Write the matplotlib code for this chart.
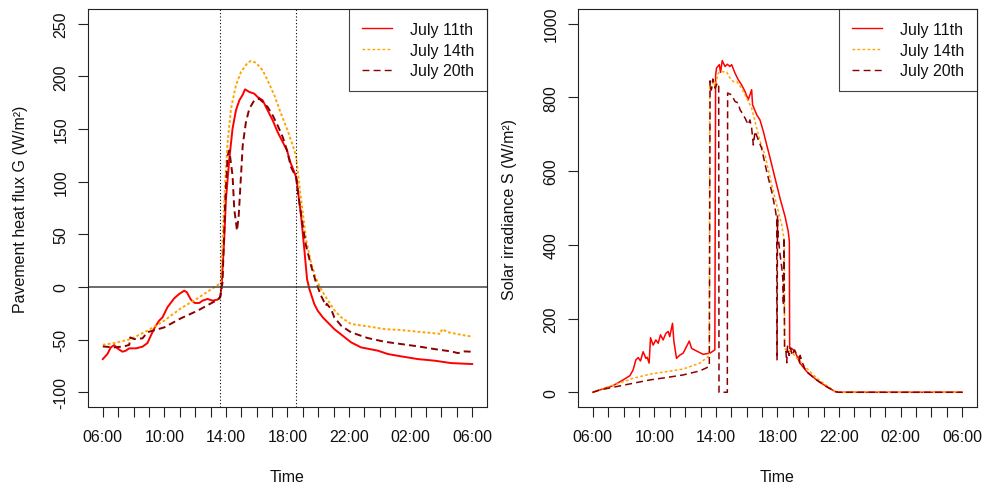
import matplotlib
matplotlib.use('Agg')
import matplotlib.pyplot as plt
from matplotlib.lines import Line2D

plt.rcParams['font.family'] = ['Liberation Sans', 'DejaVu Sans']
plt.rcParams['lines.scale_dashes'] = False

# ---------------- data (hours after 06:00) ----------------
series_names = ['July 11th', 'July 14th', 'July 20th']

g11_h = [0.0, 0.3, 0.52, 0.74, 0.95, 1.28, 1.5, 1.71, 2.15, 2.58, 2.9, 3.12, 3.38, 3.66, 3.88, 4.2, 4.64,
         4.96, 5.29, 5.46, 5.72, 5.98, 6.27, 6.48, 6.81, 7.13, 7.46, 7.63, 7.72, 7.89, 8.0, 8.22, 8.43,
         8.65, 8.87, 9.09, 9.24, 9.52, 9.84, 10.06, 10.39, 10.71, 11.04, 11.36, 11.69, 11.97, 12.18,
         12.44, 12.6, 12.66, 12.88, 13.09, 13.27, 13.42, 13.74, 13.96, 14.3, 15.04, 16.13, 16.78,
         17.87, 18.52, 19.38, 20.47, 21.55, 22.63, 24.0]
g11_v = [-68.5, -63.7, -57.4, -55.2, -58.3, -61.5, -60.5, -58.3, -58.3, -56.7, -53.3, -46.3, -38.4, -32,
         -28.9, -19.3, -10.8, -6.7, -3.5, -5, -12, -15.2, -15.2, -13, -11.4, -13, -12, -9.8, 1.2, 45.7,
         83, 121.7, 150.3, 167.7, 177.2, 182.6, 187.7, 185.2, 183.6, 180.4, 177.2, 167.7, 158.2, 147.1,
         137.6, 129.6, 118.6, 109.1, 102.7, 93.2, 67.8, 36.1, 7.6, -1.9, -16.2, -22.5, -29, -40, -52.6,
         -57.4, -60.5, -63.7, -65.9, -68.5, -70, -72.3, -73.2]

g14_h = [0.0, 0.74, 1.82, 2.9, 3.99, 5.07, 6.16, 7.24, 7.6, 7.67, 7.8, 7.95, 8.11, 8.33, 8.65, 8.98, 9.41,
         9.63, 9.95, 10.39, 10.71, 11.15, 11.58, 12.01, 12.34, 12.55, 12.77, 12.99, 13.2, 13.5, 13.8,
         14.1, 14.5, 15.04, 15.5, 16.13, 17.21, 18.3, 19.38, 20.47, 21.55, 21.94, 22.03, 22.42, 23.35,
         24.0]
g14_v = [-55, -53.3, -49.5, -41.5, -32, -20.3, -10.8, -0.3, 3, 5, 50, 100, 137.6, 169.3, 191.5, 204.2,
         213, 214.7, 213, 205.7, 196.2, 181.9, 164.5, 148.7, 134.4, 124.9, 96.4, 71, 45.7, 25, 10, 0,
         -10, -22, -29, -35.2, -37.4, -40, -40.9, -42.5, -44, -44.6, -40, -43, -45.6, -47.2]

g20_h = [0.0, 0.74, 1.37, 1.72, 1.78, 2.04, 2.58, 2.9, 3.99, 5.07, 6.16, 7.24, 7.57, 7.65, 7.78, 7.95,
         8.11, 8.22, 8.43, 8.54, 8.72, 8.83, 8.93, 9.09, 9.3, 9.52, 9.84, 10.17, 10.39, 10.71, 11.04,
         11.36, 11.69, 11.97, 12.23, 12.55, 12.77, 12.99, 13.2, 13.53, 13.85, 14.18, 14.5, 14.55, 14.83,
         15.04, 15.5, 16.13, 17.21, 18.3, 19.38, 20.47, 21.55, 22.63, 23.07, 23.5, 24.0]
g20_v = [-56.5, -57.4, -56.5, -55, -47.9, -49.5, -48.8, -43, -38.4, -29.8, -22.5, -13.9, -10.8, -8, 4.4,
         80, 124.9, 129.6, 105.9, 74.2, 53.5, 67.8, 93.2, 134.4, 156.6, 169.3, 177.2, 178.8, 175.7,
         170.9, 162.9, 153.4, 142.4, 129.6, 113.8, 104.3, 80.5, 58.3, 39.3, 20.3, 4.4, -8.3, -17.8, -16,
         -20.9, -28.9, -37, -43.1, -48.5, -52, -54.2, -56.4, -59, -61.2, -62.8, -61.2, -61.5]

s11_h = [0.0, 0.46, 1.32, 1.97, 2.41, 2.62, 2.8, 2.95, 3.1, 3.27, 3.45, 3.53, 3.66, 3.75, 3.92, 4.1, 4.25,
         4.4, 4.57, 4.75, 4.9, 5.0, 5.18, 5.27, 5.44, 5.66, 5.87, 6.09, 6.27, 6.42, 6.74, 7.17, 7.61,
         7.93, 7.98, 8.04, 8.22, 8.3, 8.41, 8.59, 8.74, 8.91, 9.02, 9.24, 9.45, 9.67, 9.89, 10.1, 10.21,
         10.32, 10.38, 10.65, 10.86, 11.08, 11.3, 11.51, 11.84, 12.16, 12.49, 12.7, 12.77, 12.79, 12.92,
         13.14, 13.46, 13.9, 14.55, 15.2, 15.74, 15.95, 24.0]
s11_v = [0, 6.3, 18, 33.5, 45, 60.5, 87.8, 94, 85, 110, 92, 95, 79, 148, 128, 142, 133, 156, 142, 160, 165,
         151, 187, 138, 92, 101, 106, 124, 139, 119, 112, 103, 106, 115, 860, 880, 889, 868, 900, 884,
         890, 884, 889, 866, 848, 834, 816, 794, 807, 821, 780, 753, 739, 708, 671, 637, 581, 527, 477,
         436, 409, 119, 119, 110, 79, 56, 33, 15, 2, 0, 0]

s14_h = [0.0, 0.46, 2.62, 3.71, 4.79, 5.87, 6.96, 7.5, 7.57, 7.6, 7.7, 7.83, 7.95, 8.15, 8.37, 8.7, 8.91,
         9.13, 9.35, 9.67, 10.0, 10.32, 10.54, 10.75, 10.97, 11.19, 11.4, 11.73, 12.05, 12.27, 12.44,
         12.46, 12.6, 12.9, 13.2, 13.9, 14.55, 15.2, 15.74, 15.95, 24.0]
s14_v = [0, 6.3, 38, 49, 56, 63, 79, 97, 100, 840, 820, 843, 830, 866, 870, 869, 853, 843, 843, 825, 798,
         771, 735, 699, 667, 644, 604, 545, 491, 454, 410, 119, 115, 110, 95, 65, 38, 18, 2, 0, 0]

s20_h = [0.0, 0.46, 2.62, 3.71, 4.79, 5.87, 6.96, 7.57, 7.62, 7.7, 7.8, 7.95, 8.1, 8.18, 8.2, 8.74, 8.76,
         9.02, 9.24, 9.45, 9.56, 9.78, 9.95, 10.1, 10.21, 10.32, 10.43, 10.54, 10.75, 10.97, 11.08, 11.3,
         11.62, 11.84, 11.95, 11.97, 12.0, 12.05, 12.15, 12.3, 12.36, 12.38, 12.42, 12.46, 12.55, 12.6,
         12.65, 12.75, 12.85, 12.95, 13.1, 13.3, 13.42, 13.44, 13.47, 13.7, 13.9, 14.55, 15.2, 15.74,
         15.95, 24.0]
s20_v = [0, 6.3, 24.4, 33.5, 40, 47, 58, 70, 845, 820, 850, 825, 840, 830, 0, 0, 812, 807, 789, 785, 767,
         753, 739, 726, 739, 717, 671, 708, 685, 662, 640, 599, 545, 500, 470, 88, 480, 420, 380, 330, 300,
         237, 420, 119, 110, 80, 125, 100, 120, 100, 115, 100, 95, 80, 100, 70, 55, 33, 15, 2, 0, 0]

ref_lines_h = [7.63, 12.53]          # vertical dotted markers (13:38, 18:32)

x_ticks = list(range(0, 25))
x_label_every = 4
x_tick_labels = ['06:00', '10:00', '14:00', '18:00', '22:00', '02:00', '06:00']
g_yticks = [-100, -50, 0, 50, 100, 150, 200, 250]
s_yticks = [0, 200, 400, 600, 800, 1000]

# ---------------- style ----------------
colors = ['#FF0000', '#FFA500', '#8B0000']
styles = ['-', (0, (2.0, 1.6)), (0, (5.0, 3.0))]
FS = 11.5

fig = plt.figure(figsize=(9.87, 4.89), dpi=100)
W, H = 987.0, 489.0
axL = fig.add_axes([88 / W, (H - 408) / H, 399 / W, 398 / H])
axR = fig.add_axes([578 / W, (H - 408) / H, 399 / W, 398 / H])


def style_axis(ax, yticks, ylim, ylabel):
    ax.set_xlim(-0.96, 24.96)
    ax.set_ylim(*ylim)
    ax.set_xticks(x_ticks)
    labs = []
    k = 0
    for t in x_ticks:
        if t % x_label_every == 0:
            labs.append(x_tick_labels[k]); k += 1
        else:
            labs.append('')
    ax.set_xticklabels(labs)
    ax.set_yticks(yticks)
    ax.set_yticklabels([str(v) for v in yticks], rotation=90, va='center')
    ax.tick_params(axis='both', direction='out', length=7.2, width=0.8, color='#222222',
                   labelsize=FS, labelcolor='#111111')
    ax.tick_params(axis='x', pad=9)
    ax.tick_params(axis='y', pad=7)
    for s in ax.spines.values():
        s.set_linewidth(0.8)
        s.set_color('#222222')
    ax.set_xlabel('Time', fontsize=FS, va='center', color='#111111')
    ax.xaxis.set_label_coords(0.5, (408 - 478) / 398.0)
    ax.set_ylabel(ylabel, fontsize=FS, va='center', color='#111111')
    ax.yaxis.set_label_coords((20 - 88) / 399.0, 0.5)


def add_legend(ax):
    handles = [Line2D([0], [0], color=c, ls=st, lw=1.0) for c, st in zip(colors, styles)]
    leg = ax.legend(handles, series_names, loc='upper right', fontsize=FS, frameon=True,
                    fancybox=False, borderaxespad=0, borderpad=0.8, labelspacing=0.36,
                    handlelength=1.9, handletextpad=1.1)
    leg.get_frame().set_edgecolor('#111111')
    leg.get_frame().set_linewidth(0.8)
    for t in leg.get_texts():
        t.set_color('#111111')


# Left panel: pavement heat flux
for h, v, c, st in zip([g11_h, g14_h, g20_h], [g11_v, g14_v, g20_v], colors, styles):
    axL.plot(h, v, color=c, ls=st, lw=1.4)
axL.axhline(0, color='#444444', lw=1.1)
for xr in ref_lines_h:
    axL.axvline(xr, color='black', lw=0.8, ls=(0, (0.8, 1.6)))
style_axis(axL, g_yticks, (-114, 264), 'Pavement heat flux G (W/m²)')
add_legend(axL)

# Right panel: solar irradiance
for h, v, c, st in zip([s11_h, s14_h, s20_h], [s11_v, s14_v, s20_v], colors, styles):
    axR.plot(h, v, color=c, ls=st, lw=1.1)
style_axis(axR, s_yticks, (-40, 1040), 'Solar irradiance S (W/m²)')
add_legend(axR)

fig.savefig('out.png', dpi=100)
